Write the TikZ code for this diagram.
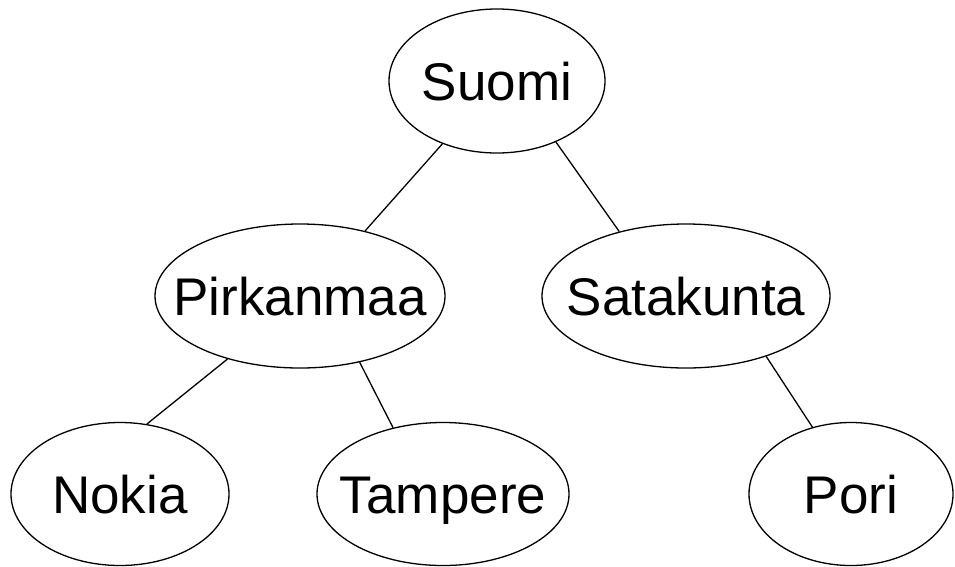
\documentclass[tikz,border=0pt]{standalone}
\usepackage{fontspec}
\setmainfont{Liberation Sans}
\usetikzlibrary{shapes.geometric}
\tikzset{
  place/.style={ellipse, draw=black, line width=1.3pt, inner sep=0pt},
  placetext/.style={font=\fontsize{53}{60}\selectfont, text height=38pt, text depth=0pt, inner sep=0pt}
}
\begin{document}
\begin{tikzpicture}[x=1pt,y=-1pt]
\useasboundingbox (0,0) rectangle (955,566);
\node[place, minimum width=216pt, minimum height=144pt, label={[placetext]center:Suomi}] (suomi) at (497,81) {};
\node[place, minimum width=290pt, minimum height=144pt, label={[placetext]center:Pirkanmaa}] (pirk) at (300,296) {};
\node[place, minimum width=288pt, minimum height=144pt, label={[placetext]center:Satakunta}] (sata) at (686,296) {};
\node[place, minimum width=218pt, minimum height=143pt, label={[placetext]center:Nokia}] (nokia) at (120,494) {};
\node[place, minimum width=252pt, minimum height=143pt, label={[placetext]center:Tampere}] (tampere) at (443,494) {};
\node[place, minimum width=204pt, minimum height=143pt, label={[placetext]center:Pori}] (pori) at (851,494) {};
\draw[line width=1.3pt] (suomi.-131.6) -- (pirk.45.4);
\draw[line width=1.3pt] (suomi.-46) -- (sata.136.7);
\draw[line width=1.3pt] (pirk.-139) -- (nokia.69);
\draw[line width=1.3pt] (pirk.-48.6) -- (tampere.127);
\draw[line width=1.3pt] (sata.-37.7) -- (pori.120);
\end{tikzpicture}
\end{document}
